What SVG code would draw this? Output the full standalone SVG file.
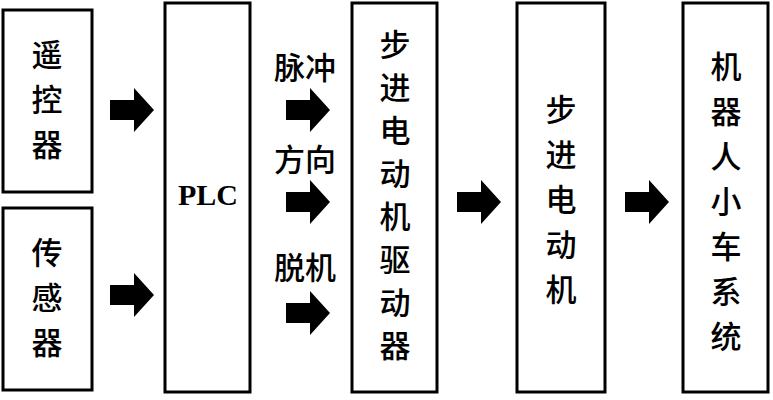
<svg xmlns="http://www.w3.org/2000/svg" width="773" height="400" viewBox="0 0 773 400">
<style>
.b{fill:#fff;stroke:#000;stroke-width:3}
.t{font-family:"Noto Sans CJK SC",sans-serif;font-size:31px;font-weight:500;text-anchor:middle;fill:#000}
.p{font-family:"Liberation Serif",serif;font-size:30px;font-weight:bold;text-anchor:middle;fill:#000}
</style>
<defs><path id="ar" d="M0,-10 H24 V-22 L44,0 L24,22 V10 H0 Z" fill="#000"/></defs>
<rect width="773" height="400" fill="#fff"/>
<g id="n1"><rect class="b" x="3" y="10" width="89" height="182"/><text class="t" x="47"><tspan y="66">遥</tspan><tspan x="47" y="111">控</tspan><tspan x="47" y="156">器</tspan></text></g>
<g id="n2"><rect class="b" x="3" y="208" width="89" height="182"/><text class="t" x="47"><tspan y="264">传</tspan><tspan x="47" y="309">感</tspan><tspan x="47" y="354">器</tspan></text></g>
<g id="n3"><rect class="b" x="165" y="3" width="85" height="389"/><text class="p" x="208" y="205">PLC</text></g>
<g id="n4"><rect class="b" x="352" y="3" width="85" height="389"/><text class="t" x="395"><tspan y="56">步</tspan><tspan x="395" y="99">进</tspan><tspan x="395" y="142">电</tspan><tspan x="395" y="185">动</tspan><tspan x="395" y="228">机</tspan><tspan x="395" y="271">驱</tspan><tspan x="395" y="314">动</tspan><tspan x="395" y="357">器</tspan></text></g>
<g id="n5"><rect class="b" x="517" y="3" width="88" height="389"/><text class="t" x="561"><tspan y="121">步</tspan><tspan x="561" y="166">进</tspan><tspan x="561" y="211">电</tspan><tspan x="561" y="256">动</tspan><tspan x="561" y="301">机</tspan></text></g>
<g id="n6"><rect class="b" x="683" y="3" width="85" height="389"/><text class="t" x="726"><tspan y="78">机</tspan><tspan x="726" y="123">器</tspan><tspan x="726" y="168">人</tspan><tspan x="726" y="213">小</tspan><tspan x="726" y="258">车</tspan><tspan x="726" y="303">系</tspan><tspan x="726" y="348">统</tspan></text></g>
<g id="connectors">
<use href="#ar" x="110" y="110"/><use href="#ar" x="110" y="295"/>
<use href="#ar" x="286" y="110"/><use href="#ar" x="286" y="202"/><use href="#ar" x="286" y="313"/>
<use href="#ar" x="457" y="202"/><use href="#ar" x="625" y="202"/>
<text class="t" x="305" y="79">脉冲</text><text class="t" x="305" y="171">方向</text><text class="t" x="305" y="279">脱机</text>
</g>
</svg>
